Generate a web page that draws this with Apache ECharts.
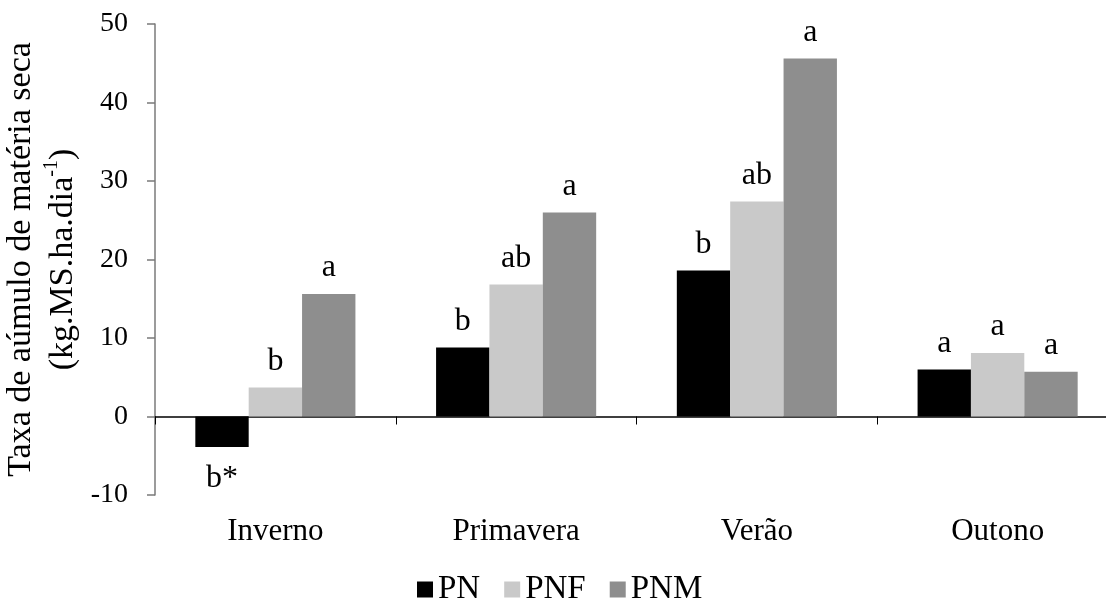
<!DOCTYPE html>
<html>
<head>
<meta charset="utf-8">
<script src="https://cdn.jsdelivr.net/npm/echarts@6/dist/echarts.min.js"></script>
<style>
html,body{margin:0;padding:0;background:#fff;overflow:hidden;}
#chart{width:1106px;height:605px;}
</style>
</head>
<body>
<div id="chart"></div>
<script>
var categories = ['Inverno', 'Primavera', 'Verão', 'Outono'];
var seriesNames = ['PN', 'PNF', 'PNM'];
var valuesPN  = [-3.9, 8.8, 18.6, 6.0];
var valuesPNF = [3.7, 16.8, 27.4, 8.1];
var valuesPNM = [15.6, 26.0, 45.6, 5.7];
var lettersPN  = ['b*', 'b', 'b', 'a'];
var lettersPNF = ['b', 'ab', 'ab', 'a'];
var lettersPNM = ['a', 'a', 'a', 'a'];
var yTicks = [-10, 0, 10, 20, 30, 40, 50];

var colors = ['#000000', '#c9c9c9', '#8e8e8e'];
var FONT = '"Liberation Serif","Times New Roman",serif';

function makeSeries(name, vals, letters, color) {
  return {
    name: name,
    type: 'bar',
    barGap: '0%',
    barCategoryGap: '33.5%',
    xAxisIndex: 0,
    itemStyle: { color: color },
    data: vals.map(function (v, i) {
      return {
        value: v,
        label: {
          show: true,
          position: v < 0 ? 'bottom' : 'top',
          distance: v < 0 ? 15 : 10,
          formatter: letters[i],
          color: '#000',
          fontFamily: FONT,
          fontSize: 32
        }
      };
    })
  };
}

var chart = echarts.init(document.getElementById('chart'));
chart.setOption({
  animation: false,
  backgroundColor: '#fff',
  textStyle: { fontFamily: FONT },
  grid: { left: 155, width: 963, top: 24, height: 471, containLabel: false, outerBoundsMode: 'none' },
  legend: {
    data: seriesNames,
    left: 412,
    top: 568,
    icon: 'rect',
    itemWidth: 16,
    itemHeight: 16,
    itemGap: 24,
    textStyle: { fontFamily: FONT, fontSize: 33, color: '#000', padding: [20, 0, 0, 0] }
  },
  xAxis: [
    {
      type: 'category',
      data: categories,
      axisLine: { onZero: true, lineStyle: { color: '#000', width: 1.5 } },
      axisTick: { show: true, length: 8, lineStyle: { color: '#000', width: 1 } },
      axisLabel: { show: false },
      splitLine: { show: false }
    },
    {
      type: 'category',
      data: categories,
      position: 'bottom',
      axisLine: { show: false, onZero: false },
      axisTick: { show: false },
      axisLabel: { show: true, margin: 21, color: '#000', fontFamily: FONT, fontSize: 31 },
      splitLine: { show: false }
    }
  ],
  yAxis: {
    type: 'value',
    min: yTicks[0],
    max: yTicks[yTicks.length - 1],
    interval: 10,
    axisLine: { show: true, lineStyle: { color: '#7a7a7a', width: 1.5 } },
    axisTick: { show: true, length: 8, lineStyle: { color: '#7a7a7a', width: 1.5 } },
    axisLabel: { margin: 27, color: '#000', fontFamily: FONT, fontSize: 28 },
    splitLine: { show: false },
    name: '{t|Taxa de aúmulo de matéria seca}\n{t|(kg.MS.ha.dia}{s|-1}{t|)}',
    nameLocation: 'middle',
    nameRotate: 90,
    nameGap: 62,
    nameTextStyle: {
      rich: {
        t: { fontFamily: FONT, fontSize: 34, color: '#000', lineHeight: 42 },
        s: { fontFamily: FONT, fontSize: 20, color: '#000', lineHeight: 42, verticalAlign: 'top', padding: [0, 0, 16, 0] }
      }
    }
  },
  series: [
    makeSeries(seriesNames[0], valuesPN, lettersPN, colors[0]),
    makeSeries(seriesNames[1], valuesPNF, lettersPNF, colors[1]),
    makeSeries(seriesNames[2], valuesPNM, lettersPNM, colors[2])
  ]
});
</script>
</body>
</html>
